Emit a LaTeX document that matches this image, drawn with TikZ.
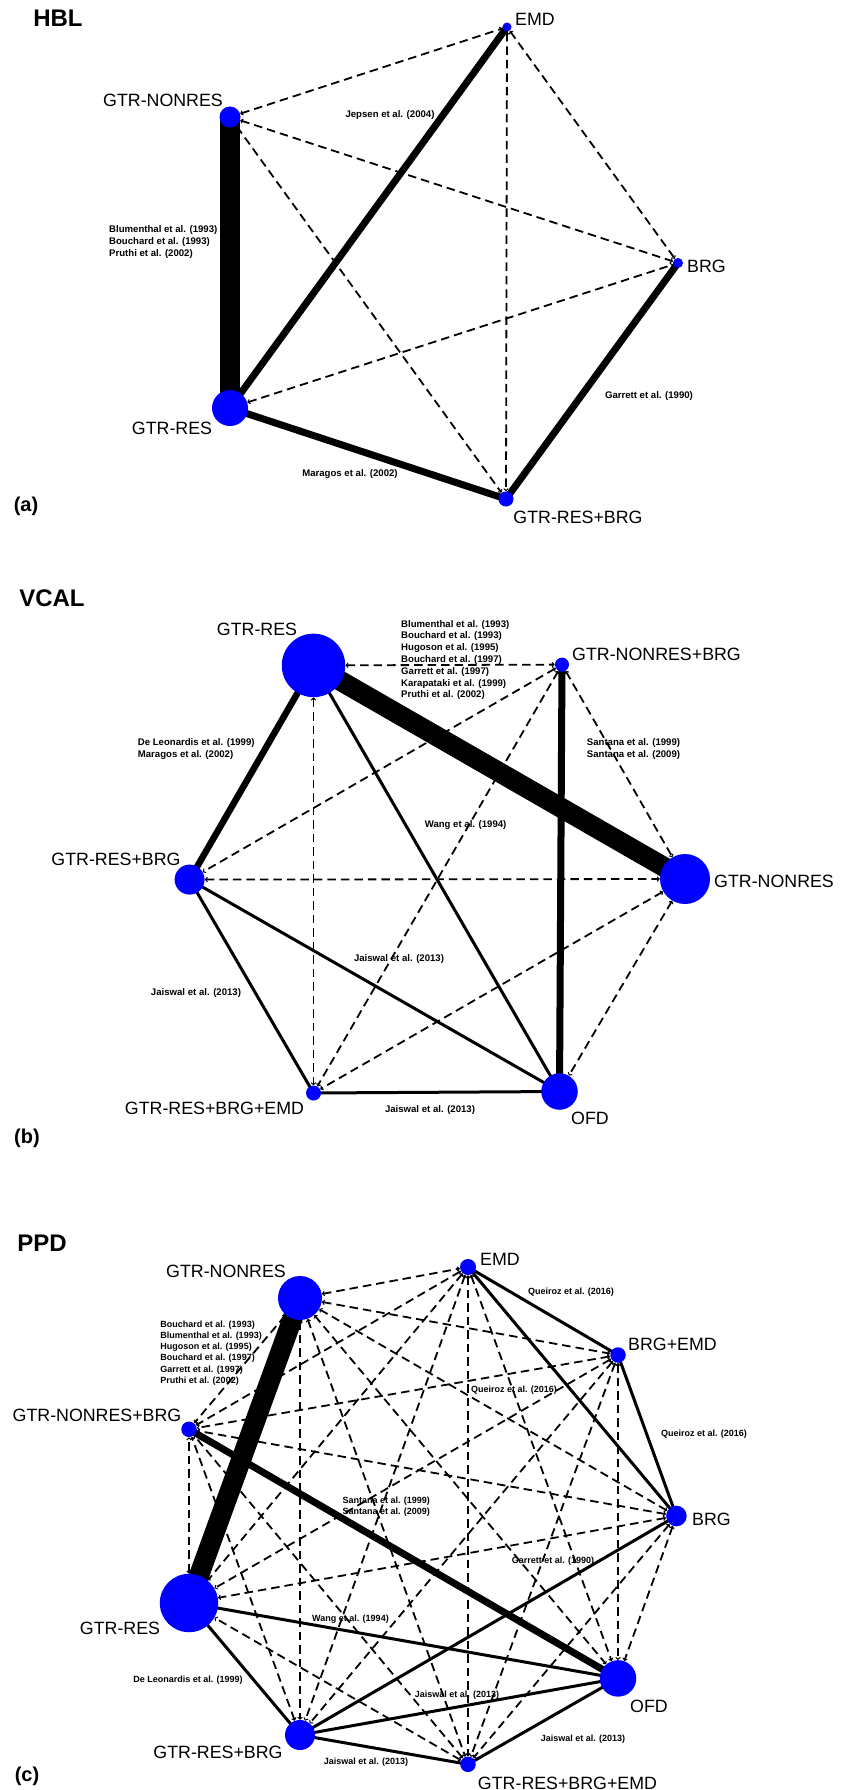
\documentclass[tikz,border=0pt]{standalone}
\usepackage{fontspec}
\setmainfont{Liberation Sans}
\usetikzlibrary{arrows.meta}
\pgfdeclarelayer{bg}
\pgfsetlayers{bg,main}
\begin{document}
\begin{tikzpicture}[x=1pt,y=-1pt,
  nd/.style={circle,fill=blue,draw=none,inner sep=0pt,minimum size=#1},
  lab/.style={inner sep=0pt,font=\fontsize{17.8pt}{20pt}\selectfont},
  ttl/.style={inner sep=0pt,font=\bfseries\fontsize{24pt}{28pt}\selectfont},
  pan/.style={inner sep=0pt,font=\bfseries\fontsize{20pt}{24pt}\selectfont},
  refa/.style={inner sep=0pt,align=left,font=\bfseries\fontsize{9.6pt}{11.8pt}\selectfont},
  refc/.style={inner sep=0pt,align=left,font=\bfseries\fontsize{9pt}{11.2pt}\selectfont},
  sol/.style={line width=#1,line cap=round},
  dsh/.style={line width=1.8pt,dash pattern=on 8.5pt off 5pt,
    {Straight Barb[length=2pt,width=4.5pt,line width=1pt]}-{Straight Barb[length=2pt,width=4.5pt,line width=1pt]}},
]
\useasboundingbox (0,0) rectangle (849,1790);
\begin{pgfonlayer}{bg}
\fill[white] (0,0) rectangle (849,1790);
\end{pgfonlayer}

% ================= Panel (a) HBL =================
\node[ttl] (tA) at (58,18) {HBL};
\node[pan] (pA) at (26,506) {(a)};
\node[nd=9pt]  (a1) at (507,27) {};
\node[nd=21pt] (a2) at (230,117) {};
\node[nd=10pt] (a3) at (678,263) {};
\node[nd=36pt] (a4) at (230,408) {};
\node[nd=15pt] (a5) at (506,499) {};
\node[lab,anchor=west] (la1) at (515,19) {EMD};
\node[lab] (la2) at (163,100) {GTR-NONRES};
\node[lab,anchor=west] (la3) at (687,266) {BRG};
\node[lab] (la4) at (172,428) {GTR-RES};
\node[lab] (la5) at (578,517) {GTR-RES+BRG};
\node[refa,anchor=north west] (ra1) at (109,225.4) {Blumenthal et al. (1993)\\Bouchard et al. (1993)\\Pruthi et al. (2002)};
\node[refa] (ra2) at (390,115) {Jepsen et al. (2004)};
\node[refa] (ra3) at (649,396) {Garrett et al. (1990)};
\node[refa] (ra4) at (350,474) {Maragos et al. (2002)};
\begin{pgfonlayer}{bg}
\draw[sol=20pt] (a2.center) -- (a4.center);
\draw[sol=7pt] (a4.center) -- (a1.center);
\draw[sol=7pt] (a4.center) -- (a5.center);
\draw[sol=7pt] (a5.center) -- (a3.center);
\foreach \u/\v in {a2/a1,a2/a3,a2/a5,a1/a5,a1/a3,a4/a3}
  \draw[dsh] (\u) -- (\v);
\end{pgfonlayer}

% ================= Panel (b) VCAL =================
\node[ttl] (tB) at (52,598.5) {VCAL};
\node[pan] (pB) at (27,1138) {(b)};
\node[nd=63.5pt] (b1) at (313.5,665.4) {};
\node[nd=14pt]   (b2) at (562,664.6) {};
\node[nd=50pt]   (b3) at (685,879) {};
\node[nd=36.5pt] (b4) at (559.5,1091.5) {};
\node[nd=15pt]   (b5) at (313.5,1093) {};
\node[nd=30pt]   (b6) at (189.6,879.6) {};
\node[lab] (lb1) at (257,629.5) {GTR-RES};
\node[lab,anchor=west] (lb2) at (572,654) {GTR-NONRES+BRG};
\node[lab,anchor=west] (lb3) at (714,881.5) {GTR-NONRES};
\node[lab] (lb4) at (590,1118) {OFD};
\node[lab] (lb5) at (214.5,1108.5) {GTR-RES+BRG+EMD};
\node[lab] (lb6) at (116,859) {GTR-RES+BRG};
\node[refa,anchor=north west] (rb1) at (401,619.9) {Blumenthal et al. (1993)\\Bouchard et al. (1993)\\Hugoson et al. (1995)\\Bouchard et al. (1997)\\Garrett et al. (1997)\\Karapataki et al. (1999)\\Pruthi et al. (2002)};
\node[refa,anchor=north west] (rb2) at (137.7,738.4) {De Leonardis et al. (1999)\\Maragos et al. (2002)};
\node[refa,anchor=north west] (rb3) at (586.7,738.4) {Santana et al. (1999)\\Santana et al. (2009)};
\node[refa] (rb4) at (465.6,825.4) {Wang et al. (1994)};
\node[refa] (rb5) at (399,959) {Jaiswal et al. (2013)};
\node[refa] (rb6) at (196,993.5) {Jaiswal et al. (2013)};
\node[refa] (rb7) at (430,1110) {Jaiswal et al. (2013)};
\begin{pgfonlayer}{bg}
\draw[sol=20pt] (b1.center) -- (b3.center);
\draw[sol=6.5pt] (b1.center) -- (b6.center);
\draw[sol=7pt] (b2.center) -- (b4.center);
\draw[sol=3pt] (b1.center) -- (b4.center);
\draw[sol=3pt] (b6.center) -- (b4.center);
\draw[sol=3pt] (b6.center) -- (b5.center);
\draw[sol=3pt] (b5.center) -- (b4.center);
\foreach \u/\v in {b1/b2,b1/b5,b2/b6,b2/b5,b2/b3,b6/b3,b3/b4,b3/b5}
  \draw[dsh] (\u) -- (\v);
\end{pgfonlayer}

% ================= Panel (c) PPD =================
\node[ttl] (tC) at (42,1243.5) {PPD};
\node[pan] (pC) at (27,1776.4) {(c)};
\node[nd=44pt]   (c1) at (300,1298) {};
\node[nd=16pt]   (c2) at (468,1267) {};
\node[nd=15.5pt] (c3) at (618,1355) {};
\node[nd=20.6pt] (c4) at (676.4,1516) {};
\node[nd=36.5pt] (c5) at (618,1678.4) {};
\node[nd=15.5pt] (c6) at (468,1764.3) {};
\node[nd=30pt]   (c7) at (300,1735) {};
\node[nd=58.4pt] (c8) at (189,1603) {};
\node[nd=15.5pt] (c9) at (189,1429.3) {};
\node[lab] (lc1) at (226,1271.5) {GTR-NONRES};
\node[lab,anchor=west] (lc2) at (480,1259) {EMD};
\node[lab,anchor=west] (lc3) at (628,1344) {BRG+EMD};
\node[lab,anchor=west] (lc4) at (692,1519.5) {BRG};
\node[lab] (lc5) at (649,1706) {OFD};
\node[lab] (lc6) at (567.5,1783.4) {GTR-RES+BRG+EMD};
\node[lab] (lc7) at (218,1752.3) {GTR-RES+BRG};
\node[lab] (lc8) at (120,1628) {GTR-RES};
\node[lab] (lc9) at (97,1415.5) {GTR-NONRES+BRG};
\node[refc,anchor=north west] (rc1) at (160.2,1320.6) {Bouchard et al. (1993)\\Blumenthal et al. (1993)\\Hugoson et al. (1995)\\Bouchard et al. (1997)\\Garrett et al. (1997)\\Pruthi et al. (2002)};
\node[refc] (rc2) at (571,1291.8) {Queiroz et al. (2016)};
\node[refc] (rc3) at (514,1389.8) {Queiroz et al. (2016)};
\node[refc] (rc4) at (704,1434) {Queiroz et al. (2016)};
\node[refc,anchor=north west] (rc5) at (342.4,1496.3) {Santana et al. (1999)\\Santana et al. (2009)};
\node[refc] (rc6) at (553,1560.7) {Garrett et al. (1990)};
\node[refc] (rc7) at (350.5,1619) {Wang et al. (1994)};
\node[refc] (rc8) at (188,1679.7) {De Leonardis et al. (1999)};
\node[refc] (rc9) at (457,1695.6) {Jaiswal et al. (2013)};
\node[refc] (rc10) at (366,1762.6) {Jaiswal et al. (2013)};
\node[refc] (rc11) at (583,1739) {Jaiswal et al. (2013)};
\begin{pgfonlayer}{bg}
\draw[sol=20pt] (c1.center) -- (c8.center);
\draw[sol=7pt] (c9.center) -- (c5.center);
\foreach \u/\v in {c2/c3,c2/c4,c3/c4,c4/c7,c8/c5,c8/c7,c7/c5,c7/c6,c6/c5}
  \draw[sol=3pt] (\u.center) -- (\v.center);
\foreach \u/\v in {c1/c2,c1/c3,c1/c4,c1/c5,c1/c6,c1/c7,c1/c9,
                   c2/c5,c2/c6,c2/c7,c2/c8,c2/c9,
                   c3/c5,c3/c6,c3/c7,c3/c8,c3/c9,
                   c4/c5,c4/c6,c4/c8,c4/c9,
                   c6/c8,c6/c9,c7/c9,c8/c9}
  \draw[dsh] (\u) -- (\v);
\end{pgfonlayer}
\end{tikzpicture}
\end{document}
